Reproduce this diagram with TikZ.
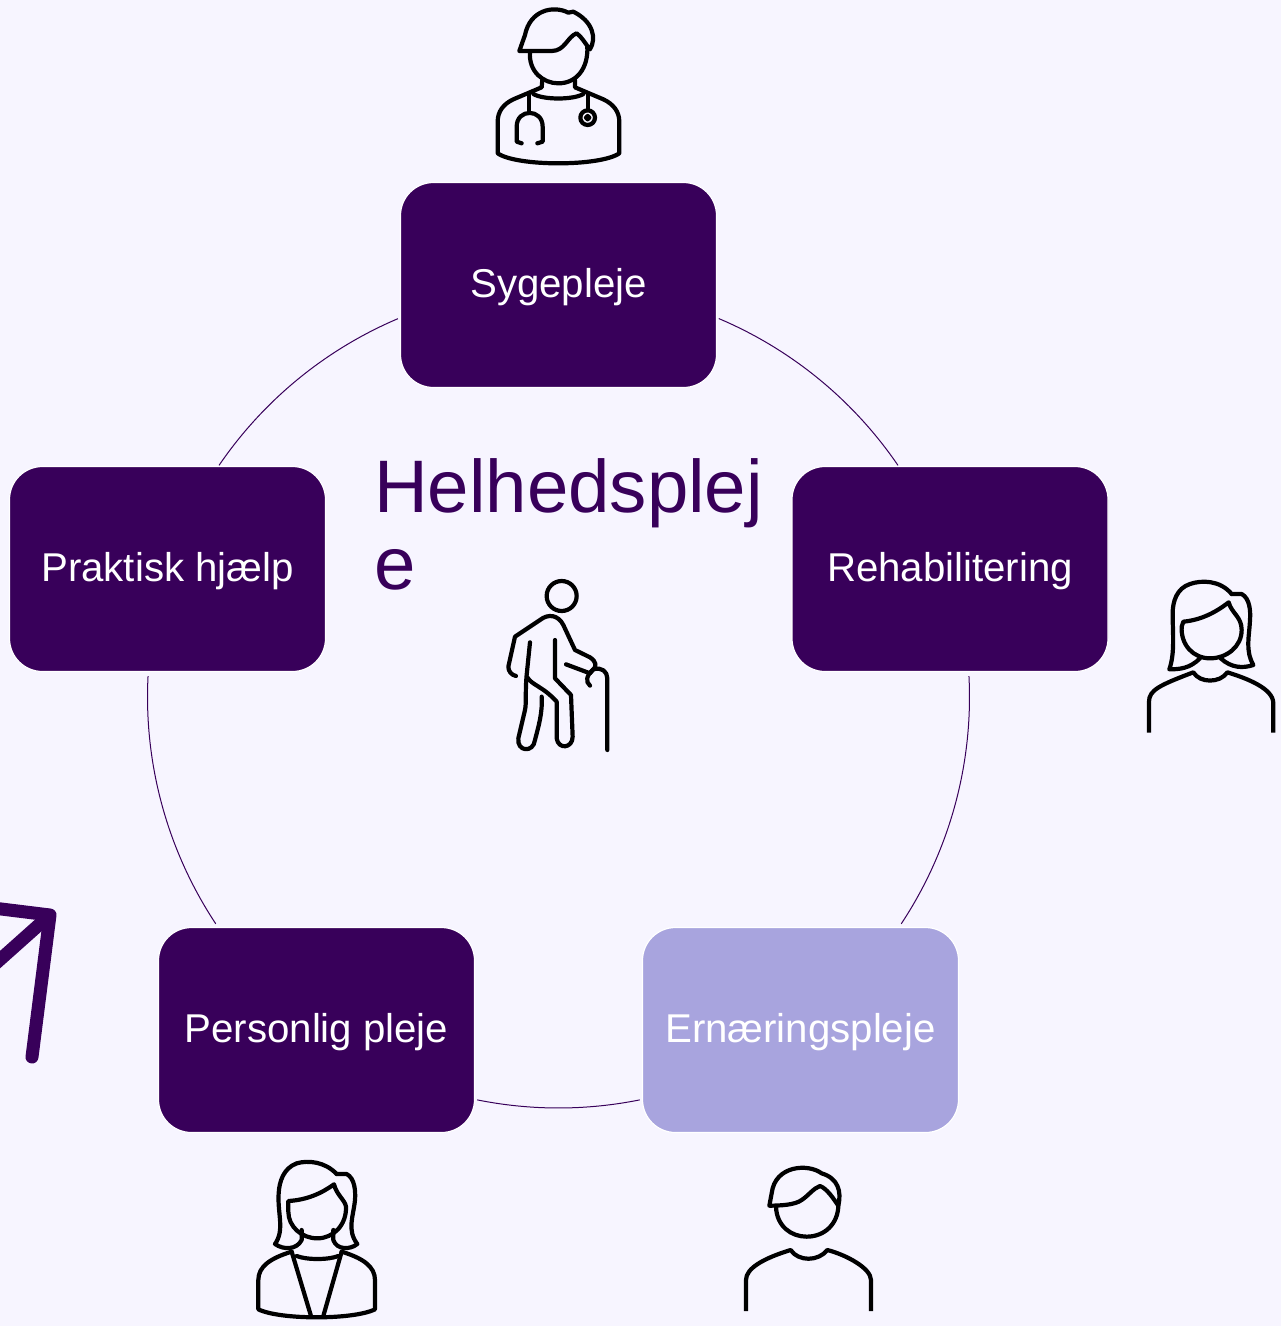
\documentclass[tikz,border=0pt]{standalone}
\usepackage{fontspec}
\usetikzlibrary{calc}
\setmainfont{Liberation Sans}
\definecolor{bgc}{HTML}{F7F5FF}
\definecolor{darkp}{HTML}{38005A}
\definecolor{lightp}{HTML}{A8A4DE}
\tikzset{
 cbox/.style={draw=white,line width=1.2pt,rounded corners=33pt,minimum width=316pt,minimum height=205pt,inner sep=0pt,text=white,font=\fontsize{40.2}{46}\selectfont,text height=33pt,text depth=9pt},
 ring/.style={draw=darkp,line width=1pt},
 icon/.style={draw=black,line width=4.2pt,line cap=round,line join=round,scale=0.3333},
 cut/.style={line cap=butt},
}
\begin{document}
\begin{tikzpicture}[x=1pt,y=-1pt]
\useasboundingbox (0,0) rectangle (1281,1326);
\fill[bgc] (0,0) rectangle (1281,1326);
\coordinate (cc) at (558.5,697);
% ring
\coordinate (r1) at ($(cc)+(-67.05:411)$);
\coordinate (r2) at ($(cc)+(-2.9:411)$);
\coordinate (r3) at ($(cc)+(78.6:411)$);
\coordinate (r4) at ($(cc)+(146.5:411)$);
\coordinate (r5) at ($(cc)+(214.3:411)$);
\draw[ring] (r1) arc[start angle=-67.05,end angle=-34.3,radius=411];
\draw[ring] (r2) arc[start angle=-2.9,end angle=33.5,radius=411];
\draw[ring] (r3) arc[start angle=78.6,end angle=101.4,radius=411];
\draw[ring] (r4) arc[start angle=146.5,end angle=182.9,radius=411];
\draw[ring] (r5) arc[start angle=214.3,end angle=247,radius=411];
% boxes
\node[cbox,fill=darkp] (syg) at (558.5,285) {Sygepleje};
\node[cbox,fill=darkp] (pra) at (167.5,569) {Praktisk hjælp};
\node[cbox,fill=darkp] (reh) at (950,569) {Rehabilitering};
\node[cbox,fill=darkp] (per) at (316.5,1030) {Personlig pleje};
\node[cbox,fill=lightp] (ern) at (800.5,1030) {Ernæringspleje};
% title
\node[anchor=north west,inner sep=0pt,align=left,text=darkp,font=\fontsize{74.4}{77}\selectfont] (title) at (374,458) {Helhedsplej\\e};
% arrow
\begin{scope}
\clip (0,0) rectangle (1281,1326);
\draw[draw=darkp,line width=13pt,line cap=round,line join=round] (-15,907) -- (50,915) -- (32,1057);
\draw[draw=darkp,line width=13pt] (-15,973) -- (50,915);
\end{scope}
% doctor
\begin{scope}[shift={(480,0)},icon]
\draw (118,153) -- (215,153) .. controls (255,153) and (262,110) .. (290,100) .. controls (305,110) and (315,130) .. (330,148) .. controls (350,115) and (340,65) .. (280,35) -- (265,38) .. controls (220,15) and (150,30) .. (135,105) -- cycle;
\draw (150,155) .. controls (145,215) and (190,250) .. (235,250) .. controls (290,250) and (325,205) .. (322,140);
\draw (187,240) -- (185,262) -- (100,298) .. controls (70,312) and (53,335) .. (53,365) -- (53,460) .. controls (110,500) and (360,500) .. (418,460) -- (418,365) .. controls (418,335) and (400,312) .. (370,298) -- (285,262) -- (285,240);
\draw (160,282) .. controls (190,300) and (280,300) .. (310,282);
\draw (148,285) -- (148,335);
\draw (125,430) -- (110,425) -- (110,380) .. controls (110,325) and (188,325) .. (188,380) -- (188,425) -- (172,430);
\draw (323,285) -- (323,330);
\draw (323,353) circle[radius=22];
\draw (323,353) circle[radius=5];
\end{scope}
% woman right
\begin{scope}[shift={(1130,570)},icon]
\draw (305,72) .. controls (270,30) and (215,30) .. (180,42) .. controls (140,55) and (128,95) .. (128,130) .. controls (128,190) and (135,250) .. (118,298) .. controls (150,298) and (180,295) .. (210,265);
\draw (305,72) -- (335,72) .. controls (360,85) and (362,125) .. (360,150) .. controls (358,200) and (345,240) .. (370,285) .. controls (340,295) and (305,295) .. (272,265);
\draw (160,155) .. controls (215,150) and (260,125) .. (296,97) .. controls (305,130) and (335,140) .. (335,180) .. controls (335,230) and (290,265) .. (240,265) .. controls (190,265) and (152,225) .. (155,170) -- cycle;
\draw[cut] (57,488) -- (57,395) .. controls (57,360) and (90,345) .. (190,307) .. controls (210,340) and (270,340) .. (292,307) .. controls (350,325) and (430,355) .. (430,400) -- (430,488);
\end{scope}
% walker
\begin{scope}[shift={(490,570)},icon]
\draw (215,78) circle[radius=45];
\draw (78,318) .. controls (65,315) and (55,305) .. (55,290) -- (75,200) -- (150,150) .. controls (175,130) and (205,135) .. (220,165) -- (255,240) -- (300,262) .. controls (320,275) and (320,290) .. (310,298) -- (300,310) -- (228,283);
\draw (120,217) -- (110,315) .. controls (105,370) and (110,395) .. (105,420) -- (85,505) .. controls (80,545) and (130,550) .. (135,510) .. controls (145,470) and (158,430) .. (155,380);
\draw (112,322) .. controls (125,345) and (160,350) .. (200,395) -- (200,505) .. controls (205,540) and (248,535) .. (248,500) -- (243,375) -- (195,325) -- (195,210);
\draw (300,347) .. controls (285,335) and (290,315) .. (310,298) .. controls (335,290) and (352,305) .. (352,325) -- (352,540);
\end{scope}
% woman bottom
\begin{scope}[shift={(240,1150)},icon]
\draw (290,72) .. controls (255,35) and (205,30) .. (170,40) .. controls (130,55) and (118,95) .. (116,130) .. controls (112,190) and (135,240) .. (105,282) .. controls (130,300) and (170,300) .. (185,270) -- (185,240);
\draw (290,72) -- (320,72) .. controls (345,85) and (347,125) .. (345,150) .. controls (340,200) and (320,240) .. (352,282) .. controls (330,300) and (290,300) .. (280,270) -- (280,240);
\draw (145,153) .. controls (200,150) and (245,130) .. (282,103) .. controls (290,135) and (315,150) .. (318,170) .. controls (320,225) and (280,265) .. (232,265) .. controls (185,265) and (145,230) .. (145,185) -- cycle;
\draw (155,305) .. controls (90,325) and (55,350) .. (55,390) -- (55,478) .. controls (120,510) and (340,510) .. (405,478) -- (405,390) .. controls (405,350) and (370,325) .. (305,305);
\draw (155,305) -- (213,498);
\draw (305,305) -- (250,498);
\draw (170,318) .. controls (200,330) and (265,330) .. (295,318);
\end{scope}
% man
\begin{scope}[shift={(730,1155)},icon]
\draw (118,152) .. controls (150,152) and (195,150) .. (215,135) .. controls (235,122) and (250,100) .. (270,93) .. controls (290,100) and (310,130) .. (325,152) .. controls (335,110) and (325,70) .. (275,55) .. controls (235,25) and (135,30) .. (125,115) -- cycle;
\draw (138,155) .. controls (140,215) and (185,245) .. (230,245) .. controls (285,245) and (325,205) .. (325,150);
\draw[cut] (48,468) -- (48,375) .. controls (48,340) and (100,310) .. (182,285) .. controls (205,320) and (265,320) .. (292,285) .. controls (350,300) and (423,340) .. (423,375) -- (423,468);
\end{scope}
\end{tikzpicture}
\end{document}
